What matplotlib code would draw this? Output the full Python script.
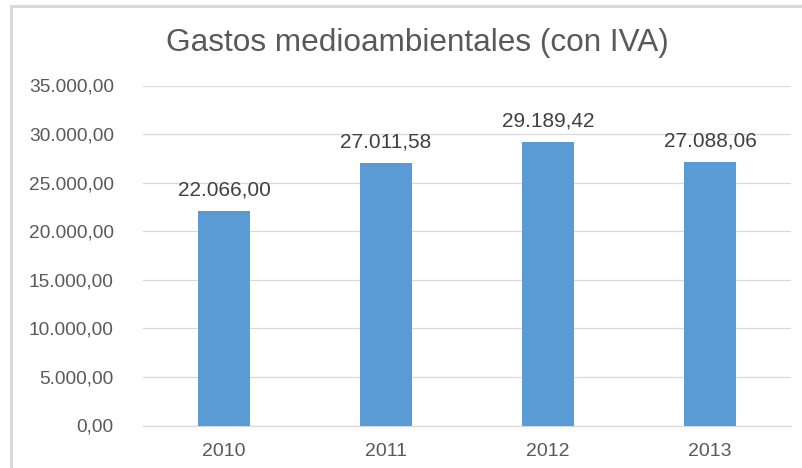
import matplotlib
matplotlib.use("Agg")
import matplotlib.pyplot as plt
from matplotlib.patches import Rectangle

years = ["2010", "2011", "2012", "2013"]
values = [22066.00, 27011.58, 29189.42, 27088.06]
value_labels = ["22.066,00", "27.011,58", "29.189,42", "27.088,06"]
yticks = [0, 5000, 10000, 15000, 20000, 25000, 30000, 35000]
ytick_labels = ["0,00", "5.000,00", "10.000,00", "15.000,00", "20.000,00",
                "25.000,00", "30.000,00", "35.000,00"]
title = "Gastos medioambientales (con IVA)"

plt.rcParams['font.family'] = ['Liberation Sans', 'DejaVu Sans']

W, H = 802, 468
fig = plt.figure(figsize=(W / 100, H / 100), dpi=100)

# outer chart border (only top and left visible)
fig.patches.append(Rectangle((11 / W, -0.1), 1.2, 1 - 6 / H + 0.1,
                             transform=fig.transFigure, fill=False,
                             edgecolor="#d9d9d9", linewidth=2.2, zorder=0))

left, right = 143 / W, 791 / W
bottom, top = 1 - 425.5 / H, 1 - 85.5 / H
ax = fig.add_axes([left, bottom, right - left, top - bottom])

x = list(range(len(years)))
ax.bar(x, values, width=0.32, color="#5b9bd5", zorder=3)
ax.set_xlim(-0.5, len(years) - 0.5)
ax.set_ylim(0, 35000)

ax.set_yticks(yticks)
ax.set_yticklabels(ytick_labels)
ax.set_xticks(x)
ax.set_xticklabels(years)
ax.tick_params(axis='y', length=0, pad=21, labelsize=13.8, labelcolor="#595959")
ax.tick_params(axis='x', length=0, pad=12.5, labelsize=14, labelcolor="#595959")
ax.grid(axis='y', color="#d9d9d9", linewidth=0.9, zorder=0)
for s in ["top", "right", "left"]:
    ax.spines[s].set_visible(False)
ax.spines["bottom"].set_color("#d9d9d9")
ax.spines["bottom"].set_linewidth(0.9)

for xi, v, lab in zip(x, values, value_labels):
    ax.annotate(lab, (xi, v), xytext=(0, 8.5), textcoords="offset points",
                ha="center", va="bottom", fontsize=15, color="#404040")

fig.text(417 / W, 1 - 43 / H, title, ha="center", va="center",
         fontsize=22.7, color="#595959")

fig.savefig("out.png", dpi=100)
